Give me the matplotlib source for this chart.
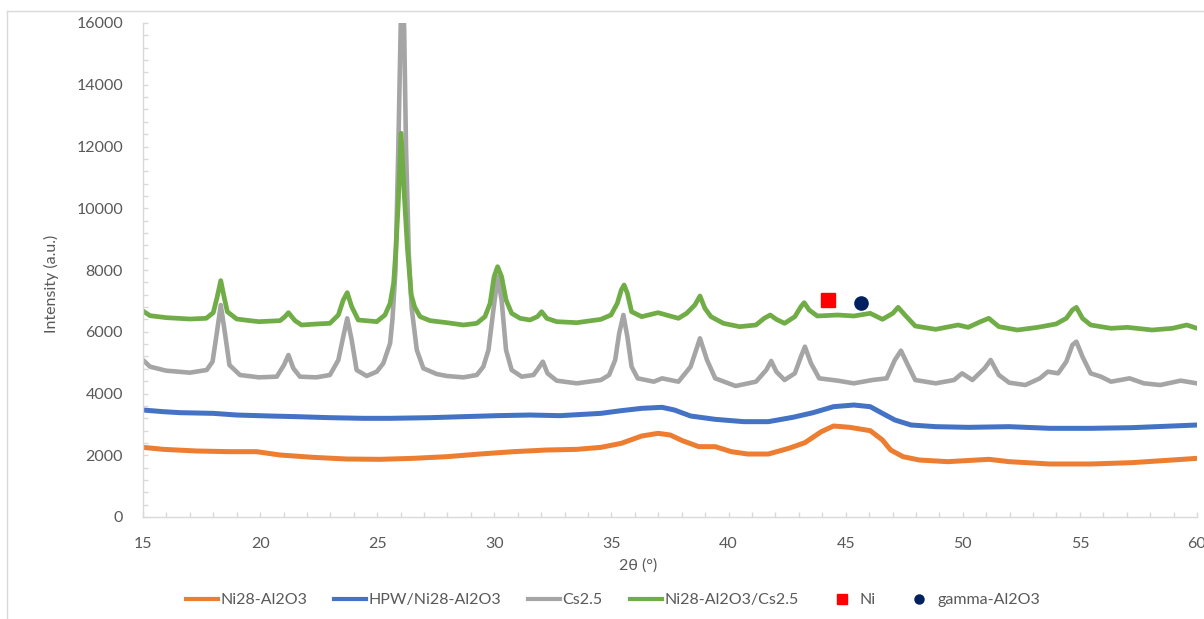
import matplotlib
matplotlib.use("Agg")
import matplotlib.pyplot as plt
from matplotlib.lines import Line2D
from matplotlib.ticker import MultipleLocator

# ---- XRD patterns: 2theta (deg) vs intensity (a.u.) ----
ni_al_2theta = [15.0, 15.87, 17.29, 18.71, 19.85, 20.85, 22.27, 23.7, 25.12, 26.54,
                27.97, 29.39, 30.81, 32.24, 33.52, 34.55, 35.42, 36.29, 36.99, 37.51,
                38.03, 38.73, 39.43, 40.12, 40.82, 41.7, 42.57, 43.26, 43.96, 44.48,
                45.18, 46.05, 46.57, 46.92, 47.45, 48.14, 49.36, 51.11, 51.98, 53.72,
                55.46, 57.21, 58.95, 60.0]
ni_al_counts = [2256, 2191, 2138, 2116, 2116, 2008, 1932, 1878, 1868, 1900,
                1954, 2040, 2116, 2170, 2191, 2256, 2386, 2623, 2710, 2656,
                2472, 2278, 2278, 2116, 2040, 2040, 2224, 2408, 2764, 2947,
                2904, 2796, 2494, 2170, 1954, 1846, 1792, 1868, 1792, 1717,
                1717, 1760, 1846, 1900]

hpw_2theta = [15.0, 15.87, 16.58, 18.0, 19.0, 20.42, 21.56, 22.98, 24.41, 25.55,
              27.26, 28.68, 30.1, 31.52, 32.8, 34.55, 35.42, 36.29, 37.16, 37.69,
              38.38, 39.43, 40.65, 41.7, 42.74, 43.61, 44.48, 45.35, 46.05, 46.57,
              47.1, 47.79, 48.84, 50.23, 51.98, 53.72, 55.46, 57.21, 58.95, 60.0]
hpw_counts = [3465, 3411, 3379, 3357, 3303, 3271, 3250, 3217, 3196, 3196,
              3217, 3250, 3282, 3303, 3282, 3357, 3444, 3519, 3552, 3465,
              3271, 3163, 3088, 3088, 3228, 3379, 3573, 3627, 3573, 3357,
              3142, 2980, 2926, 2904, 2926, 2872, 2872, 2893, 2947, 2980]

cs_2theta = [15.0, 15.3, 15.98, 17.0, 17.72, 17.97, 18.15, 18.32, 18.5, 18.69,
             19.14, 19.95, 20.71, 21.02, 21.21, 21.42, 21.7, 22.4, 22.98, 23.34,
             23.55, 23.72, 23.91, 24.12, 24.55, 24.98, 25.26, 25.55, 25.65, 25.78,
             25.9, 26.0, 26.07, 26.15, 26.23, 26.35, 26.47, 26.69, 26.97, 27.54,
             27.97, 28.68, 29.25, 29.53, 29.75, 29.96, 30.14, 30.31, 30.5, 30.74,
             31.17, 31.67, 31.88, 32.07, 32.27, 32.66, 33.52, 34.55, 34.9, 35.16,
             35.33, 35.51, 35.68, 35.86, 36.12, 36.81, 37.16, 37.86, 38.38, 38.78,
             39.08, 39.43, 40.3, 41.17, 41.61, 41.82, 42.04, 42.39, 42.83, 43.09,
             43.26, 43.52, 43.87, 44.66, 45.35, 46.14, 46.75, 47.1, 47.36, 47.62,
             47.97, 48.84, 49.63, 49.97, 50.41, 50.93, 51.19, 51.54, 51.98, 52.67,
             53.29, 53.63, 54.07, 54.42, 54.68, 54.85, 55.11, 55.46, 55.9, 56.33,
             57.12, 57.73, 58.43, 59.3, 60.0]
cs_counts = [5085, 4869, 4740, 4675, 4761, 5031, 5949, 6867, 5949, 4923,
             4599, 4523, 4545, 4923, 5247, 4815, 4545, 4523, 4599, 5085,
             5841, 6435, 5733, 4761, 4567, 4707, 4977, 5625, 6400, 8000,
             11950, 15800, 17500, 15800, 11950, 8500, 6770, 5409, 4815, 4631,
             4567, 4523, 4599, 4869, 5409, 6704, 7784, 7028, 5409, 4761,
             4545, 4599, 4815, 5031, 4653, 4416, 4329, 4437, 4599, 5085,
             5949, 6543, 5841, 4869, 4491, 4383, 4491, 4383, 4869, 5787,
             5085, 4491, 4243, 4383, 4761, 5053, 4707, 4437, 4653, 5193,
             5517, 4977, 4491, 4416, 4329, 4437, 4491, 5085, 5387, 4977,
             4437, 4329, 4437, 4653, 4437, 4815, 5085, 4599, 4351, 4275,
             4491, 4707, 4653, 5031, 5571, 5679, 5193, 4653, 4545, 4383,
             4491, 4329, 4275, 4416, 4329]

mix_2theta = [15.0, 15.3, 16.0, 17.0, 17.7, 18.0, 18.17, 18.32, 18.46, 18.6,
              19.0, 19.57, 19.95, 20.85, 21.05, 21.21, 21.49, 21.77, 22.4, 22.98,
              23.34, 23.55, 23.72, 23.91, 24.19, 24.98, 25.33, 25.55, 25.7, 25.8,
              25.9, 26.02, 26.15, 26.29, 26.45, 26.6, 26.83, 27.26, 27.97, 28.68,
              29.25, 29.6, 29.82, 29.99, 30.14, 30.31, 30.5, 30.74, 31.1, 31.52,
              31.84, 32.02, 32.24, 32.66, 33.52, 34.55, 34.98, 35.25, 35.42, 35.54,
              35.68, 35.86, 36.29, 36.99, 37.34, 37.86, 38.21, 38.56, 38.78, 38.99,
              39.25, 39.78, 40.47, 41.17, 41.52, 41.78, 42.04, 42.39, 42.83, 43.09,
              43.23, 43.44, 43.79, 44.66, 45.35, 46.05, 46.57, 47.01, 47.24, 47.53,
              47.97, 48.84, 49.8, 50.23, 50.76, 51.11, 51.54, 52.33, 53.2, 53.98,
              54.42, 54.68, 54.85, 55.11, 55.46, 56.33, 57.03, 58.08, 58.95, 59.56,
              60.0]
mix_counts = [6672, 6521, 6456, 6413, 6435, 6618, 7136, 7655, 7136, 6650,
              6413, 6359, 6327, 6359, 6480, 6618, 6359, 6219, 6251, 6273,
              6543, 7028, 7266, 6813, 6381, 6327, 6543, 6920, 7568, 8700,
              10200, 12430, 10500, 8700, 7200, 6800, 6489, 6359, 6294, 6219,
              6273, 6489, 6920, 7784, 8108, 7784, 7028, 6597, 6435, 6381,
              6489, 6650, 6435, 6327, 6294, 6402, 6543, 6920, 7352, 7514,
              7244, 6650, 6489, 6618, 6543, 6435, 6597, 6866, 7158, 6759,
              6489, 6273, 6165, 6219, 6435, 6543, 6402, 6273, 6489, 6813,
              6942, 6705, 6510, 6543, 6510, 6597, 6402, 6597, 6791, 6543,
              6186, 6078, 6219, 6143, 6327, 6435, 6165, 6057, 6143, 6251,
              6435, 6705, 6791, 6435, 6219, 6111, 6143, 6057, 6111, 6219,
              6111]

# phase reflections marked above the mixed pattern
ni_2theta, ni_counts = [44.25], [7030]
gal_2theta, gal_counts = [45.66], [6930]

series_labels = ["Ni28-Al2O3", "HPW/Ni28-Al2O3", "Cs2.5", "Ni28-Al2O3/Cs2.5"]
series_colors = ["#ED7D31", "#4472C4", "#A5A5A5", "#70AD47"]
series_widths = [3.6, 3.6, 3.3, 3.4]
marker_labels = ["Ni", "gamma-Al2O3"]

plt.rcParams['font.family'] = ['Lato', 'DejaVu Sans']
TXT = "#595959"
AXC = "#D9D9D9"
FS = 11.5

W, H = 1204, 619
fig = plt.figure(figsize=(W / 100, H / 100), dpi=100)
ax = fig.add_axes([143 / W, (H - 517) / H, (1197 - 143) / W, (517 - 23) / H])

data = [(ni_al_2theta, ni_al_counts), (hpw_2theta, hpw_counts),
        (cs_2theta, cs_counts), (mix_2theta, mix_counts)]
for (xs, ys), c, lw in zip(data, series_colors, series_widths):
    ax.plot(xs, ys, color=c, lw=lw, solid_joinstyle='round', solid_capstyle='round')

ax.plot(ni_2theta, ni_counts, ls='none', marker='s', markersize=9.5, color='#FF0000')
ax.plot(gal_2theta, gal_counts, ls='none', marker='o', markersize=9.5, color='#002060')

ax.set_xlim(15, 60)
ax.set_ylim(0, 16000)
ax.xaxis.set_major_locator(MultipleLocator(5))
ax.xaxis.set_minor_locator(MultipleLocator(1))
ax.yaxis.set_major_locator(MultipleLocator(2000))
ax.yaxis.set_minor_locator(MultipleLocator(400))

for s in ("top", "right"):
    ax.spines[s].set_visible(False)
for s in ("left", "bottom"):
    ax.spines[s].set_color(AXC)
    ax.spines[s].set_linewidth(1.0)

ax.tick_params(which='both', direction='in', color=AXC, length=3.6, width=1.0)
ax.tick_params(axis='both', which='major', labelsize=FS, labelcolor=TXT, pad=14.4)

fig.text(51 / W, 1 - 284 / H, "Intensity (a.u.)", rotation=90, ha='center',
         va='center', fontsize=FS, color=TXT)
fig.text(638 / W, 1 - 566 / H, "2θ (°)", ha='center', va='center',
         fontsize=FS, color=TXT)

# chart frame (left and top edges visible)
fig.add_artist(Line2D([7 / W, 7 / W], [0, 1 - 11 / H], color=AXC, lw=1.0))
fig.add_artist(Line2D([7 / W, 1], [1 - 11 / H, 1 - 11 / H], color=AXC, lw=1.0))

handles = [Line2D([], [], color=c, lw=3.0) for c in series_colors]
handles += [Line2D([], [], ls='none', marker='s', markersize=6.5, color='#FF0000'),
            Line2D([], [], ls='none', marker='o', markersize=6.5, color='#002060')]
fig.legend(handles, series_labels + marker_labels, loc='center',
           bbox_to_anchor=(613 / W, 1 - 600 / H), ncol=6, frameon=False,
           handlelength=2.0, handletextpad=0.15, columnspacing=1.7,
           fontsize=FS, labelcolor=TXT)

fig.savefig("out.png", dpi=100)
